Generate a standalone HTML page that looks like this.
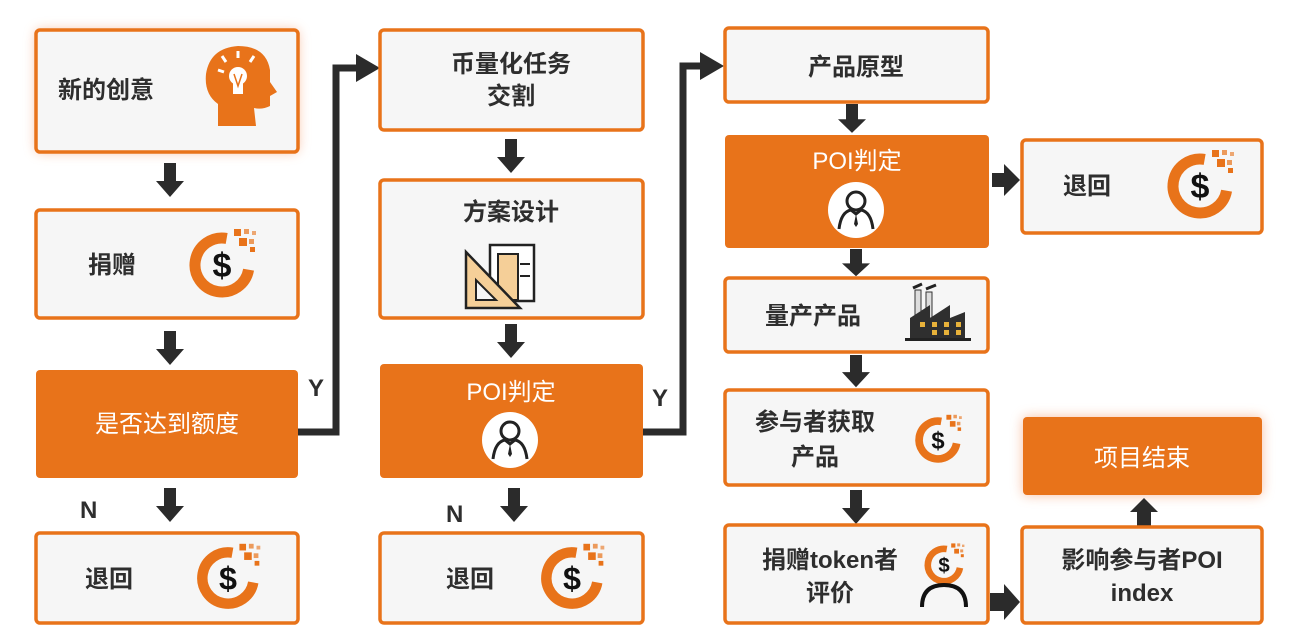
<!DOCTYPE html>
<html><head><meta charset="utf-8"><style>
html,body{margin:0;padding:0;background:#fff;}
svg{display:block;}
text{font-family:"Liberation Sans","Noto Sans CJK SC",sans-serif;}
.t{font-size:24px;fill:#2e2e2e;font-weight:bold;}
.w{font-size:24px;fill:#fff;}
.bx{fill:#f6f6f6;stroke:#e8731a;stroke-width:3.5;}
.fb{fill:#e8731a;}
.ar{fill:#2b2b2b;}
.ln{fill:none;stroke:#2b2b2b;stroke-width:7;}
</style></head><body>
<svg width="1290" height="640" viewBox="0 0 1290 640" xmlns="http://www.w3.org/2000/svg">
<defs>
<filter id="glow" x="-20%" y="-30%" width="140%" height="160%"><feGaussianBlur stdDeviation="6"/></filter>
<g id="coin">
 <circle r="27" fill="none" stroke="#e8731a" stroke-width="11" stroke-dasharray="127 43" transform="rotate(10)"/>
 <text x="0" y="12" text-anchor="middle" font-size="34" font-weight="bold" fill="#111" style="font-family:'Liberation Sans',sans-serif">$</text>
 <rect x="12" y="-36" width="7" height="7" fill="#e8731a"/>
 <rect x="22" y="-36" width="5" height="5" fill="#e8731a" opacity=".7"/>
 <rect x="30" y="-34" width="4" height="4" fill="#e8731a" opacity=".6"/>
 <rect x="17" y="-27" width="8" height="8" fill="#e8731a"/>
 <rect x="27" y="-26" width="5" height="5" fill="#e8731a" opacity=".7"/>
 <rect x="28" y="-18" width="5" height="5" fill="#e8731a"/>
</g>
<g id="person">
 <circle r="28" fill="#fff"/>
 <circle cx="0" cy="-9" r="9" fill="none" stroke="#222" stroke-width="3"/>
 <path d="M-17 19 Q-15 2 -5 0 L0 4 L5 0 Q15 2 17 19" fill="none" stroke="#222" stroke-width="3"/>
 <path d="M0 4 L-2 14 L0 17 L2 14 Z" fill="#222"/>
</g>
<path id="dn" d="M-6 0 H6 V18 H14 L0 34 L-14 18 H-6 Z"/>
</defs>

<rect x="36" y="30" width="262" height="122" rx="4" fill="#f28a55" opacity=".55" filter="url(#glow)"/>
<rect x="1023" y="417" width="239" height="78" rx="4" fill="#f28a55" opacity=".55" filter="url(#glow)"/>

<!-- Column 1 -->
<rect class="bx" x="36" y="30" width="262" height="122" rx="4"/>
<text class="t" x="58" y="98">新的创意</text>
<path d="M218 126 L218 104 Q204 94 206 74 Q210 48 238 46 Q266 46 270 70 L270 82 L277 92 L270 96 L270 106 Q262 110 254 108 L256 126 Z" fill="#e8731a"/>
<circle cx="238" cy="76" r="9" fill="#fff"/>
<rect x="233" y="82" width="10" height="12" fill="#fff"/>
<path d="M234 74 L238 86 L242 74" fill="none" stroke="#e8731a" stroke-width="1.5"/>
<path d="M226 62 L222 56 M238 58 L238 51 M250 62 L254 56 M224 72 L218 70" stroke="#fff" stroke-width="3"/>

<use href="#dn" class="ar" transform="translate(170,163)"/>
<rect class="bx" x="36" y="210" width="262" height="108" rx="4"/>
<text class="t" x="88" y="273">捐赠</text>
<use href="#coin" transform="translate(222,265) scale(1.0)"/>

<use href="#dn" class="ar" transform="translate(170,331)"/>
<rect class="fb" x="36" y="370" width="262" height="108" rx="4"/>
<text class="w" x="167" y="432" text-anchor="middle">是否达到额度</text>

<text class="t" x="80" y="518" font-size="26">N</text>
<use href="#dn" class="ar" transform="translate(170,488)"/>
<rect class="bx" x="36" y="533" width="262" height="90" rx="4"/>
<text class="t" x="85" y="587">退回</text>
<use href="#coin" transform="translate(228,578) scale(0.95)"/>

<path class="ln" d="M298 432 H336 V68 H360"/>
<path class="ar" d="M356 54 L380 68 L356 82 Z"/>
<text class="t" x="308" y="396" font-size="27">Y</text>

<!-- Column 2 -->
<rect class="bx" x="380" y="30" width="263" height="100" rx="4"/>
<text class="t" x="511" y="72" text-anchor="middle">币量化任务</text>
<text class="t" x="511" y="104" text-anchor="middle">交割</text>
<use href="#dn" class="ar" transform="translate(511,139)"/>
<rect class="bx" x="380" y="180" width="263" height="138" rx="4"/>
<text class="t" x="511" y="220" text-anchor="middle">方案设计</text>
<rect x="490" y="245" width="44" height="56" fill="#fff" stroke="#222" stroke-width="2.5"/>
<rect x="498" y="254" width="20" height="46" fill="#f5cf98" stroke="#222" stroke-width="2"/>
<path d="M466 252 L466 308 L520 308 Z" fill="#f5cf98" stroke="#222" stroke-width="2.5"/>
<path d="M476 280 L476 300 L496 300 Z" fill="#f6f6f6" stroke="#222" stroke-width="2"/>
<path d="M520 264 H530 M520 276 H530" stroke="#222" stroke-width="2"/>

<use href="#dn" class="ar" transform="translate(511,324)"/>
<rect class="fb" x="380" y="364" width="263" height="114" rx="4"/>
<text class="w" x="511" y="400" text-anchor="middle">POI判定</text>
<use href="#person" transform="translate(510,440)"/>

<text class="t" x="446" y="522" font-size="26">N</text>
<use href="#dn" class="ar" transform="translate(514,488)"/>
<rect class="bx" x="380" y="533" width="263" height="90" rx="4"/>
<text class="t" x="446" y="587">退回</text>
<use href="#coin" transform="translate(572,578) scale(0.95)"/>

<path class="ln" d="M643 432 H683 V66 H704"/>
<path class="ar" d="M700 52 L724 66 L700 80 Z"/>
<text class="t" x="652" y="406" font-size="27">Y</text>

<!-- Column 3 -->
<rect class="bx" x="725" y="28" width="263" height="74" rx="4"/>
<text class="t" x="856" y="75" text-anchor="middle">产品原型</text>
<use href="#dn" class="ar" transform="translate(852,104) scale(1,0.85)"/>
<rect class="fb" x="725" y="135" width="264" height="113" rx="4"/>
<text class="w" x="857" y="169" text-anchor="middle">POI判定</text>
<use href="#person" transform="translate(856,210)"/>

<path class="ar" d="M992 173 H1004 V164 L1020 180 L1004 196 V187 H992 Z"/>
<rect class="bx" x="1022" y="140" width="240" height="93" rx="4"/>
<text class="t" x="1063" y="194">退回</text>
<use href="#coin" transform="translate(1200,186) scale(1.0)"/>

<use href="#dn" class="ar" transform="translate(856,249) scale(1,0.8)"/>
<rect class="bx" x="725" y="278" width="263" height="74" rx="4"/>
<text class="t" x="765" y="324">量产产品</text>
<rect x="915" y="290" width="6" height="28" fill="#ddd" stroke="#333" stroke-width="1"/>
<rect x="926" y="292" width="6" height="26" fill="#ddd" stroke="#333" stroke-width="1"/>
<path d="M910 318 L930 305 L930 318 L950 305 L950 318 L965 312 L965 338 L910 338 Z" fill="#2f2f2f"/>
<rect x="905" y="338" width="66" height="3" fill="#222"/>
<g fill="#e8b23a"><rect x="920" y="322" width="5" height="5"/><rect x="932" y="322" width="5" height="5"/><rect x="944" y="322" width="5" height="5"/><rect x="956" y="322" width="5" height="5"/><rect x="932" y="330" width="5" height="5"/><rect x="944" y="330" width="5" height="5"/><rect x="956" y="330" width="5" height="5"/></g>
<path d="M913 288 L922 284 M926 289 L936 285" stroke="#222" stroke-width="3"/>

<use href="#dn" class="ar" transform="translate(856,355) scale(1,0.95)"/>
<rect class="bx" x="725" y="390" width="263" height="95" rx="4"/>
<text class="t" x="815" y="430" text-anchor="middle">参与者获取</text>
<text class="t" x="815" y="465" text-anchor="middle">产品</text>
<use href="#coin" transform="translate(938,440) scale(0.7)"/>

<use href="#dn" class="ar" transform="translate(856,490)"/>
<rect class="bx" x="725" y="525" width="263" height="98" rx="4"/>
<text class="t" x="830" y="568" text-anchor="middle">捐赠token者</text>
<text class="t" x="830" y="601" text-anchor="middle">评价</text>
<use href="#coin" transform="translate(944,565) scale(0.6)"/>
<path d="M922 607 Q922 585 944 585 Q966 585 966 607" fill="none" stroke="#111" stroke-width="4"/>

<path class="ar" d="M990 593 H1004 V584 L1020 602 L1004 620 V611 H990 Z"/>

<rect class="fb" x="1023" y="417" width="239" height="78" rx="4"/>
<text class="w" x="1142" y="466" text-anchor="middle">项目结束</text>
<path class="ar" d="M1137 527 V512 H1130 L1144 498 L1158 512 H1151 V527 Z"/>
<rect class="bx" x="1022" y="527" width="240" height="96" rx="4"/>
<text class="t" x="1142" y="568" text-anchor="middle">影响参与者POI</text>
<text class="t" x="1142" y="601" text-anchor="middle">index</text>
</svg>
</body></html>
